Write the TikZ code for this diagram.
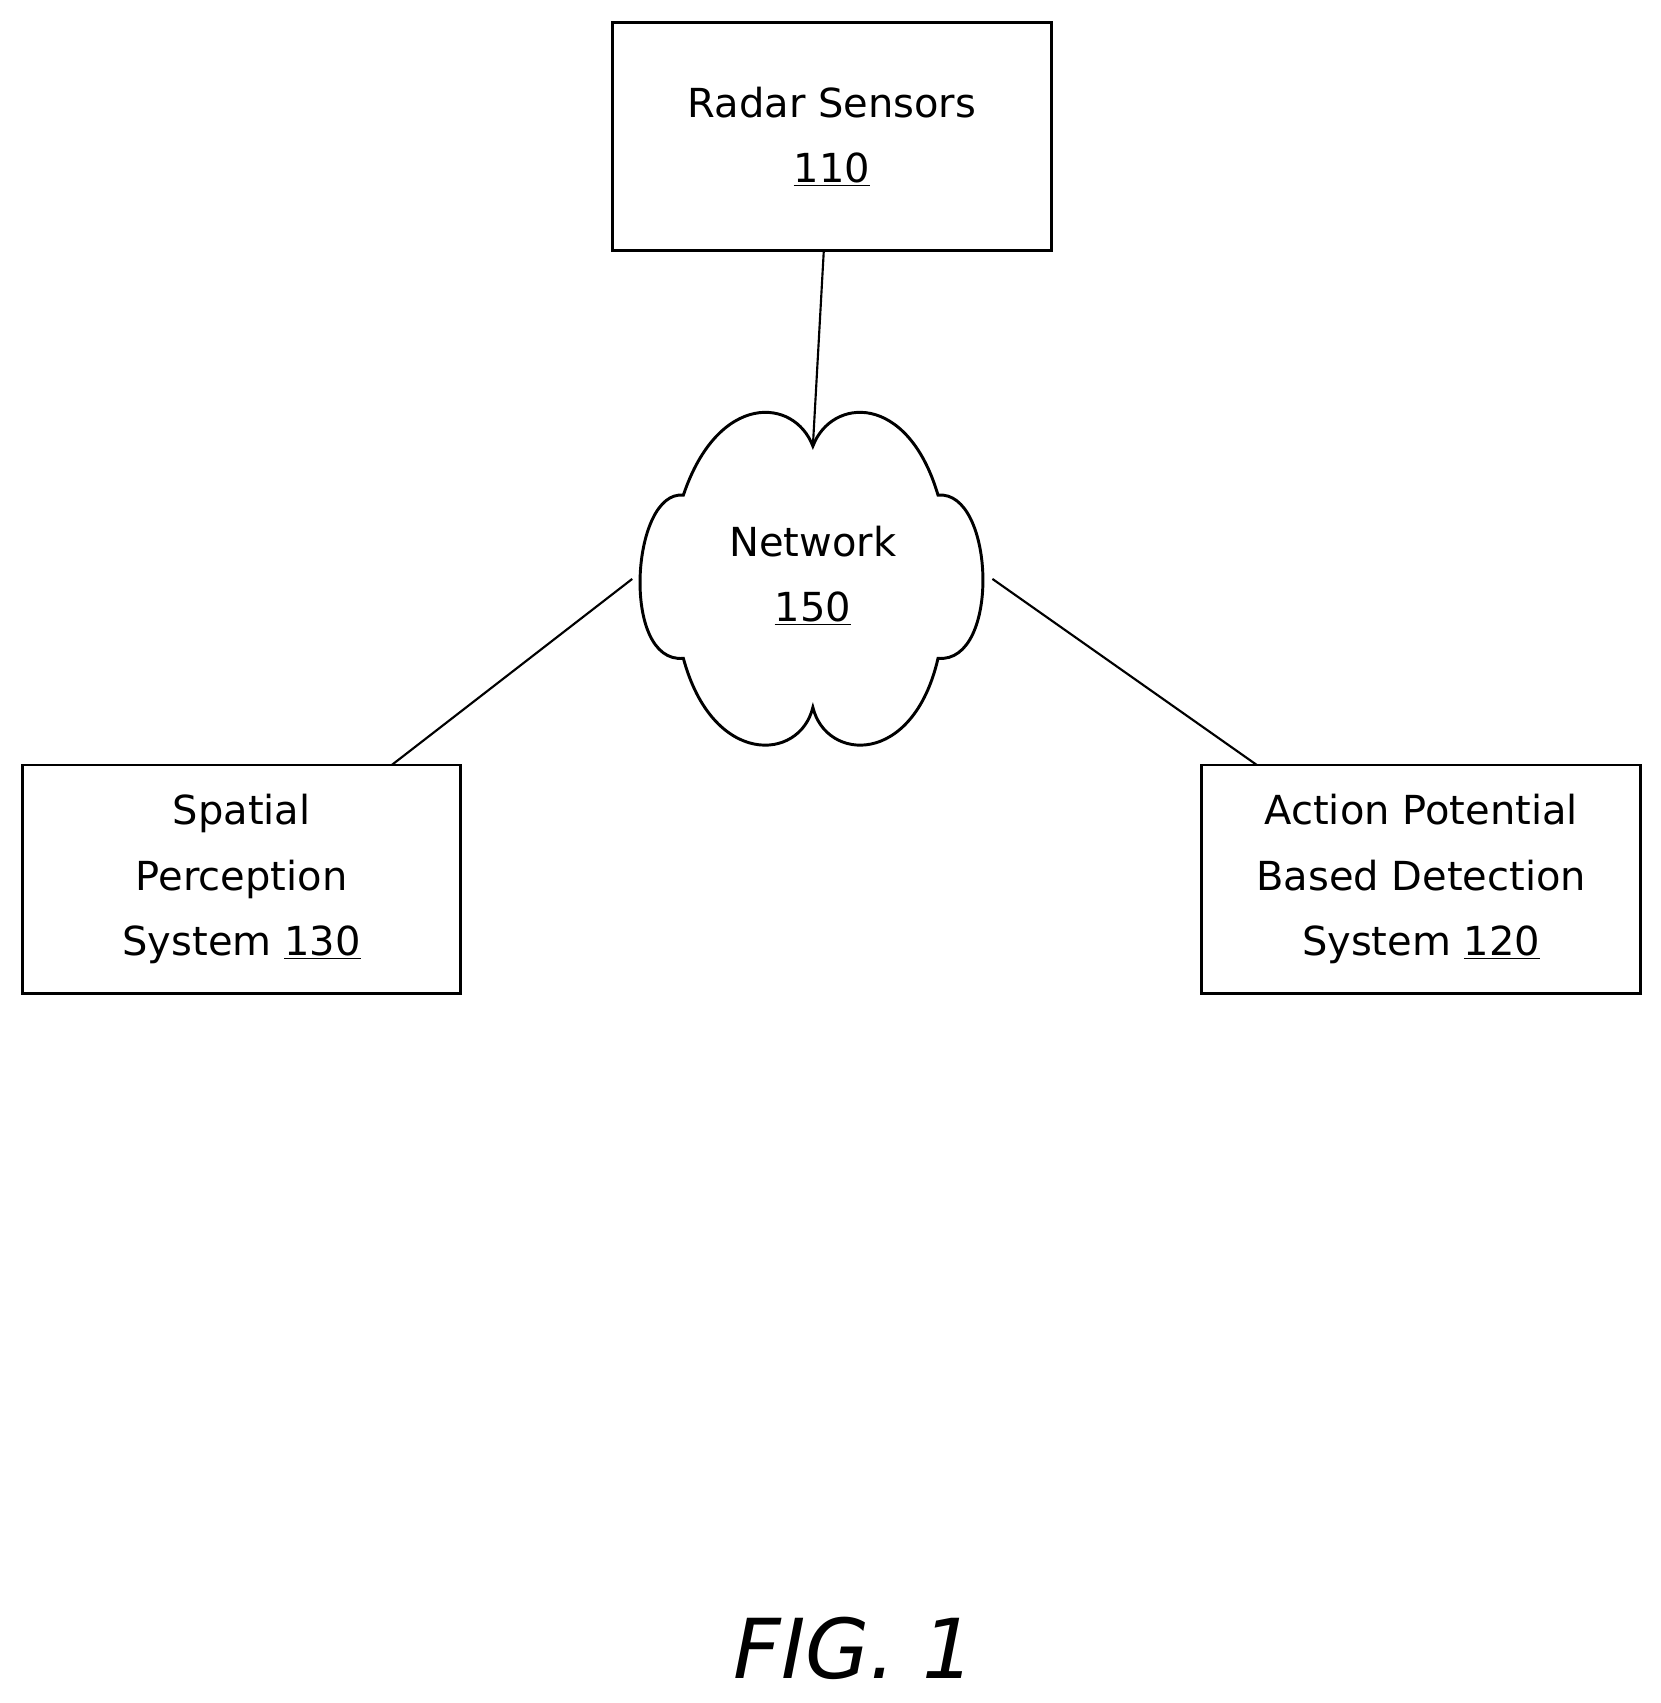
\documentclass[tikz,border=0pt]{standalone}
\usepackage{fontspec}
\setmainfont{DejaVu Sans}
\begin{document}
\begin{tikzpicture}[x=0.816pt,y=-0.816pt,
  box/.style={draw,line width=2.2pt,minimum width=403*0.816pt,minimum height=210*0.816pt,align=center,font=\fontsize{30}{49}\selectfont},
  conn/.style={line width=1.6pt}]
\useasboundingbox (0,0) rectangle (1526,1565);
\node[box] (radar) at (764.5,125.5) {Radar Sensors\\\underline{110}};
\node[box] (spatial) at (222,808) {Spatial\\Perception\\System \underline{130}};
\node[box] (action) at (1306,808) {Action Potential\\Based Detection\\System \underline{120}};
\draw[line width=2.2pt] (747,410) .. controls (730,365) and (660,360) .. (628,455)
  .. controls (580,450) and (570,610) .. (628,605)
  .. controls (655,705) and (735,700) .. (747,650)
  .. controls (759,700) and (839,705) .. (862,605)
  .. controls (920,610) and (914,450) .. (862,455)
  .. controls (834,360) and (764,365) .. (747,410) -- cycle;
\node[align=center,font=\fontsize{30}{49}\selectfont] (net) at (747,529) {Network\\\underline{150}};
\coordinate (ctop) at (747,410);
\coordinate (cleft) at (581,532);
\coordinate (cright) at (912,532);
\coordinate (rb) at (757,231);
\coordinate (sb) at (360,703);
\coordinate (ab) at (1155,703);
\draw[conn] (rb) -- (ctop);
\draw[conn] (cleft) -- (sb);
\draw[conn] (cright) -- (ab);
\node[font=\fontsize{62}{70}\selectfont\itshape] (fig) at (785,1515) {FIG. 1};
\end{tikzpicture}
\end{document}
